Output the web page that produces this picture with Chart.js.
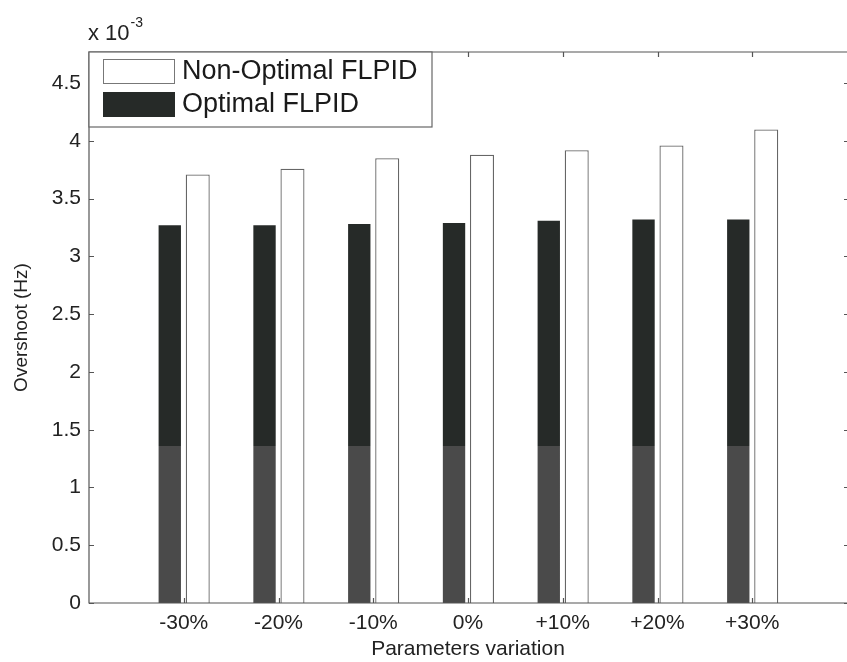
<!DOCTYPE html>
<html>
<head>
<meta charset="utf-8">
<script src="https://cdn.jsdelivr.net/npm/chart.js@4"></script>
<style>
  html, body { margin: 0; padding: 0; background: #fff; overflow: hidden; }
  #wrap { width: 847px; height: 662px; }
</style>
</head>
<body>
<div id="wrap"><canvas id="chart" width="847" height="662"></canvas></div>
<script>
// values in units of 1e-3 Hz, blank slots at both ends give MATLAB-like xlim [0 8]
const categories  = ["", "-30%", "-20%", "-10%", "0%", "+10%", "+20%", "+30%", ""];
const optimal     = [null, 3.27, 3.27, 3.28, 3.29, 3.31, 3.32, 3.32, null];
const nonOptimal  = [null, 3.71, 3.76, 3.85, 3.88, 3.92, 3.96, 4.10, null];
const yTicks      = [0, 0.5, 1, 1.5, 2, 2.5, 3, 3.5, 4, 4.5];

const FONT = "'Liberation Sans', Arial, sans-serif";

// dark bars: scan leaves the lower part lighter
function darkFill(ctx) {
    const chart = ctx.chart;
    const area = chart.chartArea;
    if (!area) return "#262a28";
    const y = chart.scales.y.getPixelForValue(1.36);
    const t = (y - area.top) / (area.bottom - area.top);
    const g = chart.ctx.createLinearGradient(0, area.top, 0, area.bottom);
    g.addColorStop(0, "#262a28");
    g.addColorStop(t, "#262a28");
    g.addColorStop(t, "#4a4a4a");
    g.addColorStop(1, "#4a4a4a");
    return g;
}

const frame = {
    id: "frame",
    afterDraw(chart) {
        const c = chart.ctx;
        const a = chart.chartArea;
        const x = chart.scales.x, y = chart.scales.y;
        c.save();
        c.strokeStyle = "#555";
        c.lineWidth = 1.2;
        // right edge of the box is cut off in the scan
        c.beginPath();
        c.moveTo(a.right + 5, a.top); c.lineTo(a.left, a.top);
        c.lineTo(a.left, a.bottom); c.lineTo(a.right + 5, a.bottom);
        c.stroke();

        // inward ticks
        c.beginPath();
        for (const v of yTicks) {
            const py = Math.round(y.getPixelForValue(v)) + 0.5;
            c.moveTo(a.left, py); c.lineTo(a.left + 5, py);
            c.moveTo(a.right + 1, py); c.lineTo(a.right - 3, py);
        }
        for (let i = 1; i < categories.length - 1; i++) {
            const px = Math.round(x.getPixelForValue(i)) + 0.5;
            c.moveTo(px, a.bottom); c.lineTo(px, a.bottom - 5);
            c.moveTo(px, a.top); c.lineTo(px, a.top + 5);
        }
        c.stroke();

        // exponent label
        c.fillStyle = "#222";
        c.textBaseline = "alphabetic";
        c.textAlign = "left";
        c.font = "22px " + FONT;
        c.fillText("x 10", 88, 40);
        const w = c.measureText("x 10").width;
        c.font = "14px " + FONT;
        c.fillText("-3", 88 + w + 1, 27);

        // legend box
        const lx = a.left, ly = a.top, lw = 343, lh = 75;
        c.fillStyle = "#fff";
        c.fillRect(lx, ly, lw, lh);
        c.strokeStyle = "#666";
        c.lineWidth = 1.2;
        c.strokeRect(lx, ly, lw, lh);
        c.lineWidth = 1;
        c.strokeStyle = "#777";
        c.strokeRect(103.5, 59.5, 71, 24);
        c.fillStyle = "#262a28";
        c.fillRect(103, 92, 72, 25);
        c.fillStyle = "#1a1a1a";
        c.font = "27px " + FONT;
        c.textBaseline = "middle";
        c.fillText(chart.data.datasets[1].label, 182, 72);
        c.fillText(chart.data.datasets[0].label, 182, 105);
        c.restore();
    }
};

new Chart(document.getElementById("chart"), {
    type: "bar",
    data: {
        labels: categories,
        datasets: [
            {
                label: "Optimal FLPID",
                data: optimal,
                backgroundColor: darkFill,
                borderWidth: 0,
                categoryPercentage: 0.59,
                barPercentage: 0.8
            },
            {
                label: "Non-Optimal FLPID",
                data: nonOptimal,
                backgroundColor: "#ffffff",
                borderColor: "#666",
                borderWidth: 1.3,
                categoryPercentage: 0.59,
                barPercentage: 0.86
            }
        ]
    },
    options: {
        responsive: false,
        animation: false,
        layout: { padding: { top: 52, right: 0, left: 0, bottom: 0 } },
        plugins: {
            legend: { display: false },
            tooltip: { enabled: false }
        },
        scales: {
            x: {
                offset: false,
                grid: { display: false },
                border: { display: false },
                ticks: {
                    color: "#222",
                    font: { family: FONT, size: 21 },
                    padding: 0,
                    maxRotation: 0,
                    autoSkip: false
                },
                title: {
                    display: true,
                    text: "Parameters variation",
                    color: "#222",
                    font: { family: FONT, size: 21 },
                    padding: { top: 0, bottom: 0 }
                },
                afterFit: s => { s.height = 59; }
            },
            y: {
                min: 0,
                max: 4.77,
                grid: { display: false },
                border: { display: false },
                ticks: {
                    stepSize: 0.5,
                    includeBounds: false,
                    color: "#222",
                    font: { family: FONT, size: 21 },
                    padding: 0,
                    callback: v => String(Math.round(v * 10) / 10)
                },
                title: {
                    display: true,
                    text: "Overshoot (Hz)",
                    color: "#222",
                    font: { family: FONT, size: 19 },
                    padding: { top: 10, bottom: 0 }
                },
                afterFit: s => { s.width = 89; }
            }
        }
    },
    plugins: [frame]
});
</script>
</body>
</html>
